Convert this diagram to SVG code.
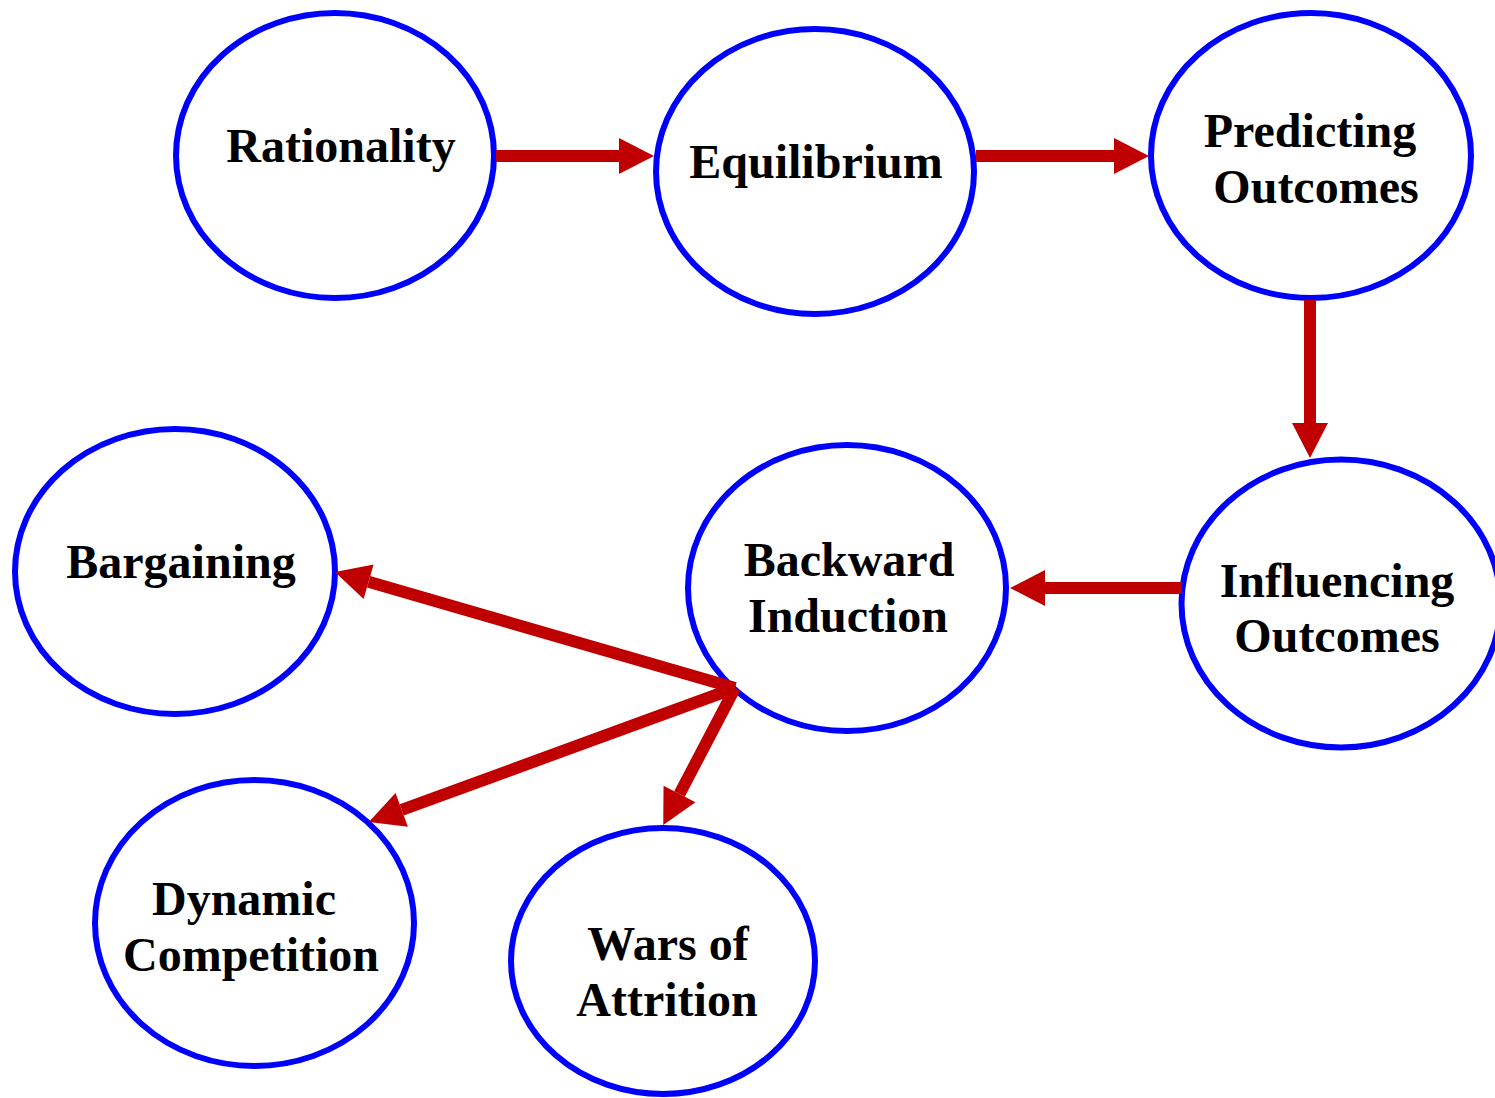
<svg xmlns="http://www.w3.org/2000/svg" width="1495" height="1098" viewBox="0 0 1495 1098">
<style>
.node ellipse{fill:#fff;stroke:#0000ff;stroke-width:6}
.node text{font-family:"Liberation Serif","Times New Roman",serif;font-weight:bold;font-size:48px;fill:#000;text-anchor:middle}
.conn line{stroke:#c00000;stroke-width:12;fill:none;marker-end:url(#ah)}
</style>
<defs>
<marker id="ah" markerUnits="userSpaceOnUse" markerWidth="36" markerHeight="36" refX="0" refY="18" orient="auto" overflow="visible">
<path d="M0,0 L35,18 L0,36 z" fill="#c00000"/>
</marker>
</defs>
<rect width="1495" height="1098" fill="#fff"/>
<g id="n-rationality" class="node"><ellipse cx="335" cy="155.5" rx="159" ry="142.5"/><text x="341" y="162">Rationality</text></g>
<g id="n-equilibrium" class="node"><ellipse cx="815" cy="171.5" rx="159" ry="142.5"/><text x="816" y="178">Equilibrium</text></g>
<g id="n-predicting" class="node"><ellipse cx="1311" cy="155.5" rx="160" ry="142.5"/><text x="1310" y="147">Predicting</text><text x="1316" y="203">Outcomes</text></g>
<g id="n-influencing" class="node"><ellipse cx="1341" cy="603.5" rx="159.5" ry="144"/><text x="1337" y="597">Influencing</text><text x="1337" y="652">Outcomes</text></g>
<g id="n-backward" class="node"><ellipse cx="847" cy="588" rx="159" ry="143"/><text x="849" y="576">Backward</text><text x="848" y="632">Induction</text></g>
<g id="n-bargaining" class="node"><ellipse cx="175" cy="571.5" rx="160" ry="142.5"/><text x="181" y="578">Bargaining</text></g>
<g id="n-dynamic" class="node"><ellipse cx="254.5" cy="923" rx="159.5" ry="143"/><text x="244" y="915">Dynamic</text><text x="251" y="971">Competition</text></g>
<g id="n-wars" class="node"><ellipse cx="663" cy="961" rx="152" ry="133"/><text x="668" y="960">Wars of</text><text x="667" y="1016">Attrition</text></g>
<g id="connectors" class="conn">
<line x1="496" y1="156" x2="619" y2="156"/>
<line x1="976" y1="156" x2="1114" y2="156"/>
<line x1="1310" y1="300" x2="1310" y2="423"/>
<line x1="1182" y1="588" x2="1045" y2="588"/>
<line x1="735" y1="688" x2="368.6" y2="581.8"/>
<line x1="735" y1="688" x2="401.7" y2="809.9"/>
<line x1="735" y1="688" x2="679.5" y2="794"/>
</g>
</svg>
